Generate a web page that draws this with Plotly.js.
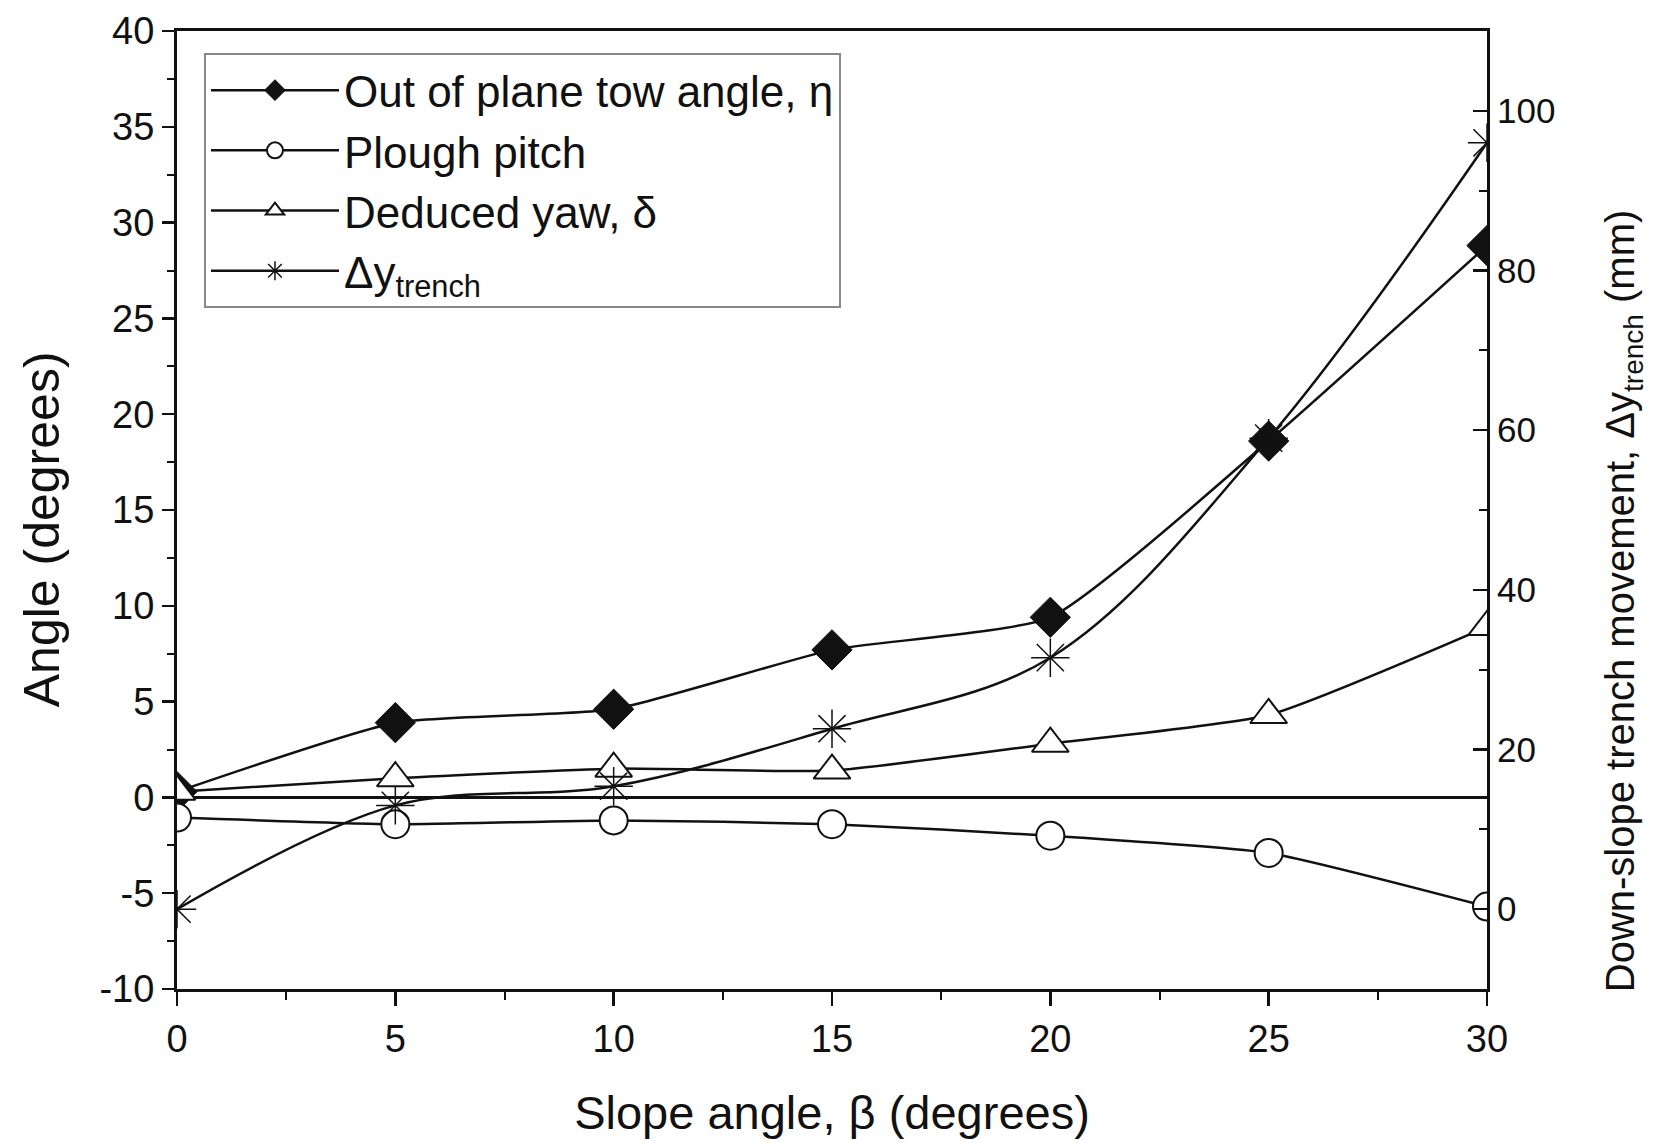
<!DOCTYPE html>
<html>
<head>
<meta charset="utf-8">
<script src="https://cdn.plot.ly/plotly-3.0.1.min.js"></script>
<style>html,body{margin:0;padding:0;background:#fff;}#chart{width:1659px;height:1143px;}</style>
</head>
<body>
<div id="chart"></div>
<script>
const slopeAngle = [0, 5, 10, 15, 20, 25, 30];
const outOfPlaneTow = [0.3, 3.9, 4.6, 7.7, 9.4, 18.6, 28.8];
const ploughPitch = [-1.05, -1.4, -1.2, -1.4, -2.0, -2.9, -5.7];
const deducedYaw = [0.3, 1.0, 1.5, 1.4, 2.8, 4.3, 8.9];
const trenchMovement = [0, 13, 15.4, 22.6, 31.5, 59, 96];

const angleTickVals = [-10, -5, 0, 5, 10, 15, 20, 25, 30, 35, 40];
const angleTickText = ['-10', '-5', '0', '5', '10', '15', '20', '25', '30', '35', '40'];

const font = 'Liberation Sans, Arial, sans-serif';
const ink = '#111';

const traces = [
  {x: slopeAngle, y: outOfPlaneTow, name: 'Out of plane tow angle, η', mode: 'lines+markers',
   line: {color: ink, width: 2.5, shape: 'spline', smoothing: 0.5},
   marker: {symbol: 'diamond', size: 31, color: ink, line: {color: ink, width: 1}}},
  {x: slopeAngle, y: ploughPitch, name: 'Plough pitch', mode: 'lines+markers',
   line: {color: ink, width: 2.5, shape: 'spline', smoothing: 0.5},
   marker: {symbol: 'circle', size: 28, color: '#fff', line: {color: ink, width: 2}}},
  {x: slopeAngle, y: deducedYaw, name: 'Deduced yaw, δ', mode: 'lines+markers',
   line: {color: ink, width: 2.5, shape: 'spline', smoothing: 0.5},
   marker: {symbol: 'triangle-up', size: 32, color: '#fff', line: {color: ink, width: 2}}},
  {x: slopeAngle, y: trenchMovement, name: 'Δy<sub>trench</sub>', mode: 'lines+markers', yaxis: 'y2',
   line: {color: ink, width: 2.5, shape: 'spline', smoothing: 1},
   marker: {symbol: 'asterisk-open', size: 32, color: ink, line: {color: ink, width: 1.5}}}
];

const layout = {
  width: 1659, height: 1143,
  margin: {l: 177, r: 172, t: 31, b: 154},
  paper_bgcolor: '#fff', plot_bgcolor: '#fff',
  font: {family: font, color: ink},
  showlegend: true,
  legend: {x: 0.0206, y: 0.977, xanchor: 'left', yanchor: 'top', bgcolor: '#fff',
           bordercolor: '#888', borderwidth: 2, font: {size: 44, family: font, color: ink},
           itemwidth: 128, tracegroupgap: 0},
  xaxis: {range: [0, 30], dtick: 5, tick0: 0, showgrid: false, zeroline: false,
          showline: true, linecolor: ink, linewidth: 3, mirror: true,
          ticks: 'outside', ticklen: 14, tickwidth: 2.5, tickcolor: ink,
          minor: {dtick: 2.5, ticks: 'outside', ticklen: 8, tickwidth: 2, tickcolor: ink},
          tickfont: {size: 38, family: font, color: ink},
          title: {text: 'Slope angle, β (degrees)', font: {size: 47, family: font, color: ink}, standoff: 38}},
  yaxis: {range: [-10, 40], tickmode: 'array', tickvals: angleTickVals, ticktext: angleTickText, showgrid: false,
          zeroline: true, zerolinecolor: ink, zerolinewidth: 2.5,
          showline: true, linecolor: ink, linewidth: 3,
          ticks: 'outside', ticklen: 12, tickwidth: 2.5, tickcolor: ink,
          minor: {dtick: 2.5, ticks: 'outside', ticklen: 7, tickwidth: 2, tickcolor: ink},
          tickfont: {size: 38, family: font, color: ink}},
  yaxis2: {range: [-10, 110], dtick: 20, tick0: 0, overlaying: 'y', side: 'right', showgrid: false,
           zeroline: false, showline: true, linecolor: ink, linewidth: 3,
           ticks: 'inside', ticklen: 14, tickwidth: 2.5, tickcolor: ink,
           minor: {dtick: 10, ticks: 'inside', ticklen: 8, tickwidth: 2, tickcolor: ink},
           tickfont: {size: 35, family: font, color: ink}},
  annotations: [
    {text: 'Angle (degrees)', xref: 'paper', yref: 'paper', x: -0.103, y: 0.48,
     xanchor: 'center', yanchor: 'middle', textangle: -90, showarrow: false,
     font: {size: 50, family: font, color: ink}},
    {text: 'Down-slope trench movement, Δy<sub>trench</sub> (mm)', xref: 'paper', yref: 'paper', x: 1.104, y: 0.405,
     xanchor: 'center', yanchor: 'middle', textangle: -90, showarrow: false,
     font: {size: 40, family: font, color: ink}}
  ]
};

Plotly.newPlot('chart', traces, layout, {displayModeBar: false, staticPlot: true});
</script>
</body>
</html>
